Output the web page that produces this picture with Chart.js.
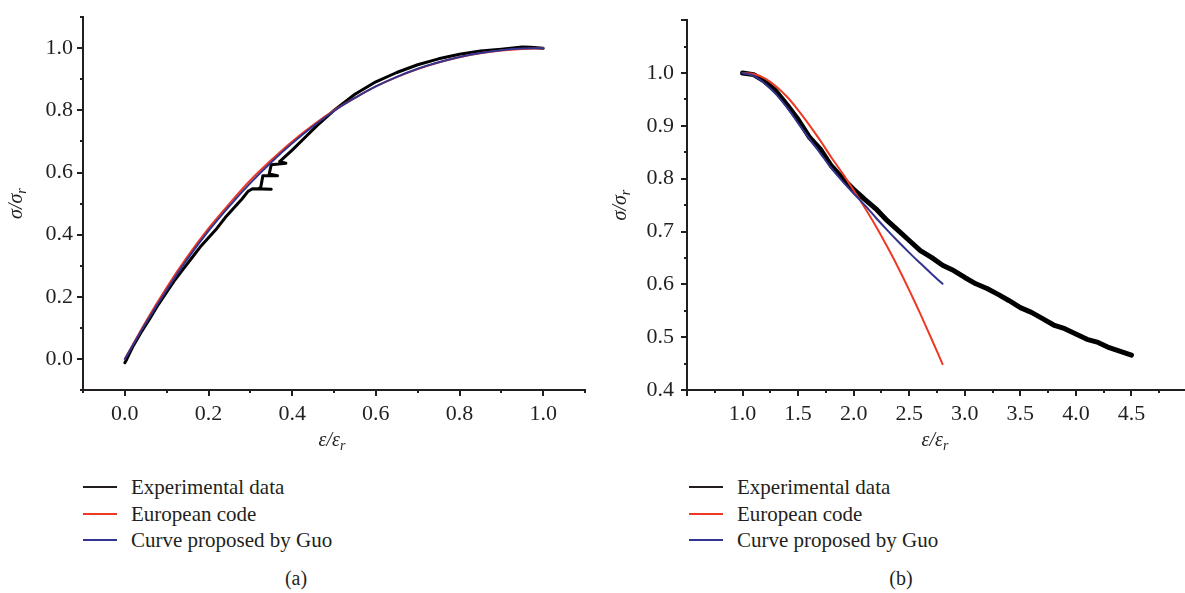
<!DOCTYPE html>
<html>
<head>
<meta charset="utf-8">
<script src="https://cdn.jsdelivr.net/npm/chart.js@4.4.1/dist/chart.umd.min.js"></script>
<style>
  html, body { margin: 0; padding: 0; background: #fff; }
  body {
    width: 1185px; height: 593px; position: relative; overflow: hidden;
    font-family: 'Liberation Serif', 'DejaVu Serif', serif; color: #231f20;
  }
  .panel { position: absolute; top: 0; height: 470px; }
  #panelA { left: 0; width: 592px; }
  #panelB { left: 592px; width: 600px; }
  .legend { position: absolute; top: 474px; font-size: 21px; line-height: 26.5px; }
  .legend .row { display: flex; align-items: center; white-space: nowrap; }
  .legend .swatch { width: 34px; height: 0; border-top: 2px solid; margin-right: 14px; }
  .caption { position: absolute; top: 567px; font-size: 20px; transform: translateX(-50%); }
</style>
</head>
<body>
<div class="panel" id="panelA"><canvas id="chartA"></canvas></div>
<div class="panel" id="panelB"><canvas id="chartB"></canvas></div>
<div class="legend" id="legendA" style="left:83px"></div>
<div class="legend" id="legendB" style="left:689px"></div>
<div class="caption" style="left:296px">(a)</div>
<div class="caption" style="left:901px">(b)</div>
<script>
const INK = '#231f20';
const RED = '#ee3a24';
const BLUE = '#33348f';
const BLACK = '#000000';

const seriesNames = ['Experimental data', 'European code', 'Curve proposed by Guo'];

// (a) ascending branch
const curveAX = [0, 0.05, 0.1, 0.15, 0.2, 0.25, 0.3, 0.35, 0.4, 0.45, 0.5,
  0.55, 0.6, 0.65, 0.7, 0.75, 0.8, 0.85, 0.9, 0.95, 1.0];
const euroA = [0, 0.12, 0.23, 0.33, 0.42, 0.5, 0.575, 0.64, 0.7, 0.753, 0.8,
  0.84, 0.877, 0.907, 0.933, 0.954, 0.971, 0.984, 0.993, 0.998, 1.0];
const guoA = [0, 0.115, 0.222, 0.322, 0.412, 0.492, 0.566, 0.633, 0.694, 0.749, 0.798,
  0.84, 0.877, 0.908, 0.934, 0.955, 0.972, 0.985, 0.994, 0.999, 1.0];
const expAX = [0, 0.005, 0.02, 0.04, 0.06, 0.08, 0.1, 0.12, 0.14, 0.16, 0.18, 0.2,
  0.22, 0.24, 0.26, 0.28, 0.295, 0.305, 0.35, 0.32, 0.325, 0.33, 0.365, 0.345,
  0.35, 0.385, 0.37, 0.4, 0.43, 0.46, 0.5, 0.55, 0.6, 0.65, 0.7, 0.75, 0.8,
  0.85, 0.9, 0.95, 0.97, 1.0];
const expAY = [-0.012, 0.0, 0.042, 0.088, 0.13, 0.175, 0.215, 0.255, 0.29, 0.325, 0.36, 0.39,
  0.42, 0.455, 0.485, 0.515, 0.54, 0.548, 0.546, 0.548, 0.553, 0.59, 0.59, 0.595,
  0.625, 0.63, 0.635, 0.672, 0.712, 0.752, 0.8, 0.852, 0.892, 0.922, 0.947, 0.966, 0.981,
  0.991, 0.997, 1.004, 1.003, 1.0];

// (b) descending branch
const curveBX = [1.0, 1.1, 1.2, 1.3, 1.4, 1.5, 1.6, 1.7, 1.8, 1.9, 2.0,
  2.1, 2.2, 2.3, 2.4, 2.5, 2.6, 2.7, 2.8];
const euroB = [1.0, 0.998, 0.99, 0.975, 0.955, 0.93, 0.902, 0.872, 0.84, 0.81, 0.778,
  0.745, 0.71, 0.672, 0.632, 0.589, 0.544, 0.497, 0.449];
const guoB = [1.0, 0.995, 0.98, 0.96, 0.935, 0.905, 0.876, 0.848, 0.82, 0.795, 0.772,
  0.75, 0.726, 0.703, 0.681, 0.66, 0.64, 0.62, 0.601];
const expBX = [1.0, 1.1, 1.2, 1.3, 1.4, 1.5, 1.6, 1.7, 1.8, 1.9, 2.0, 2.1, 2.2, 2.3,
  2.4, 2.5, 2.6, 2.7, 2.8, 2.9, 3.0, 3.1, 3.2, 3.3, 3.4, 3.5, 3.6, 3.7, 3.8, 3.9,
  4.0, 4.1, 4.2, 4.3, 4.4, 4.5];
const expBY = [1.0, 0.997, 0.984, 0.966, 0.94, 0.912, 0.879, 0.856, 0.824, 0.801, 0.78,
  0.761, 0.743, 0.721, 0.702, 0.683, 0.664, 0.651, 0.636, 0.626, 0.613, 0.601, 0.592,
  0.581, 0.569, 0.556, 0.547, 0.535, 0.523, 0.516, 0.506, 0.496, 0.49, 0.48, 0.473, 0.466];

// axis ticks: [min, max, step, major step, first label, last label]
const ticksAX = [-0.1, 1.1, 0.1, 0.2, 0.0, 1.0];
const ticksAY = [-0.1, 1.1, 0.1, 0.2, 0.0, 1.0];
const ticksBX = [0.5, 5.0, 0.25, 0.5, 1.0, 4.5];
const ticksBY = [0.4, 1.1, 0.05, 0.1, 0.4, 1.0];

const pts = (xs, ys) => xs.map((x, i) => ({ x, y: ys[i] }));
const isMajor = (v, step) => Math.abs(v / step - Math.round(v / step)) < 1e-6;

// minor/major tick marks drawn outward from the axes
const tickMarks = {
  id: 'tickMarks',
  afterDraw(chart, args, opts) {
    const { ctx, chartArea } = chart;
    ctx.save();
    ctx.strokeStyle = INK;
    ctx.lineWidth = 2;
    ['x', 'y'].forEach((id) => {
      const scale = chart.scales[id];
      const major = opts[id];
      scale.ticks.forEach((t) => {
        const len = isMajor(t.value, major) ? 6 : 3;
        const p = Math.round(scale.getPixelForValue(t.value));
        ctx.beginPath();
        if (id === 'x') {
          ctx.moveTo(p, chartArea.bottom);
          ctx.lineTo(p, chartArea.bottom + len);
        } else {
          ctx.moveTo(chartArea.left, p);
          ctx.lineTo(chartArea.left - len, p);
        }
        ctx.stroke();
      });
    });
    ctx.restore();
  },
};

// axis titles with a subscript r
function subLabel(ctx, main, sub, cx, cy, rotate) {
  ctx.save();
  ctx.translate(cx, cy);
  if (rotate) ctx.rotate(-Math.PI / 2);
  ctx.fillStyle = INK;
  ctx.textBaseline = 'alphabetic';
  const mainFont = 'italic 20px "Liberation Serif"';
  const subFont = 'italic 14px "Liberation Serif"';
  ctx.font = mainFont;
  const w1 = ctx.measureText(main).width;
  ctx.font = subFont;
  const w2 = ctx.measureText(sub).width;
  const x0 = -(w1 + w2) / 2;
  ctx.font = mainFont;
  ctx.fillText(main, x0, 5);
  ctx.font = subFont;
  ctx.fillText(sub, x0 + w1, 9);
  ctx.restore();
}

const axisTitles = {
  id: 'axisTitles',
  afterDraw(chart) {
    const { ctx, chartArea } = chart;
    subLabel(ctx, 'ε/ε', 'r', (chartArea.left + chartArea.right) / 2 - 2, 441, false);
    subLabel(ctx, 'σ/σ', 'r', chartArea.left - 66, (chartArea.top + chartArea.bottom) / 2, true);
  },
};

function scaleOpts(t, fitSize, horizontal, pad) {
  const [min, max, step, major, lo, hi] = t;
  return {
    type: 'linear',
    min, max,
    afterFit(scale) {
      if (horizontal) scale.height = fitSize; else scale.width = fitSize;
    },
    border: { display: true, color: INK, width: 2 },
    grid: { display: true, drawOnChartArea: false, drawTicks: true, tickLength: 6, tickColor: 'rgba(0,0,0,0)' },
    ticks: {
      stepSize: step,
      autoSkip: false,
      maxRotation: 0,
      padding: pad,
      color: INK,
      font: { family: 'Liberation Serif', size: 22 },
      callback: (v) => (isMajor(v, major) && v >= lo - 1e-6 && v <= hi + 1e-6 ? Number(v).toFixed(1) : ''),
    },
  };
}

function makeChart(id, curveX, euro, guo, expX, expY, tx, ty, yWidth, padRight, yPad, expWidth) {
  return new Chart(document.getElementById(id), {
    type: 'line',
    data: {
      datasets: [
        { label: seriesNames[0], data: pts(expX, expY), borderColor: BLACK, borderWidth: expWidth, tension: 0, order: 3 },
        { label: seriesNames[1], data: pts(curveX, euro), borderColor: RED, borderWidth: 2, tension: 0.3, order: 2 },
        { label: seriesNames[2], data: pts(curveX, guo), borderColor: BLUE, borderWidth: 2, tension: 0.3, order: 1 },
      ],
    },
    options: {
      responsive: true,
      maintainAspectRatio: false,
      animation: false,
      elements: { point: { radius: 0 }, line: { borderJoinStyle: 'round', borderCapStyle: 'round' } },
      layout: { padding: { top: 12, right: padRight, bottom: 40, left: 0 } },
      plugins: {
        legend: { display: false },
        tooltip: { enabled: false },
        tickMarks: { x: tx[3], y: ty[3] },
      },
      scales: {
        x: scaleOpts(tx, 40, true, 5),
        y: scaleOpts(ty, yWidth, false, yPad),
      },
    },
    plugins: [tickMarks, axisTitles],
  });
}

function buildLegend(chart, el) {
  chart.data.datasets.forEach((ds) => {
    const row = document.createElement('div');
    row.className = 'row';
    const sw = document.createElement('span');
    sw.className = 'swatch';
    sw.style.borderTopColor = ds.borderColor === BLACK ? INK : ds.borderColor;
    const txt = document.createElement('span');
    txt.textContent = ds.label;
    row.appendChild(sw);
    row.appendChild(txt);
    el.appendChild(row);
  });
}

const chartA = makeChart('chartA', curveAX, euroA, guoA, expAX, expAY, ticksAX, ticksAY, 83, 7, 4, 3);
const chartB = makeChart('chartB', curveBX, euroB, guoB, expBX, expBY, ticksBX, ticksBY, 95, 2, 7, 5);
buildLegend(chartA, document.getElementById('legendA'));
buildLegend(chartB, document.getElementById('legendB'));
</script>
</body>
</html>
